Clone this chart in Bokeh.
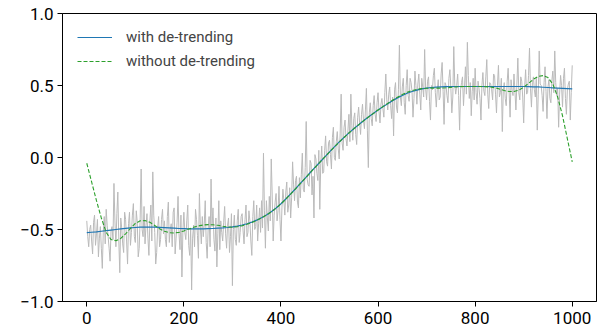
from bokeh.plotting import figure
from bokeh.models import Range1d, FixedTicker, Legend, LegendItem
from bokeh.embed import file_html
from bokeh.resources import INLINE

# Raw noisy signal, sampled every 2 units
signal_x = list(range(0, 1001, 2))
signal_y = [
    -0.44, -0.55, -0.62, -0.50, -0.47, -0.58, -0.67, -0.45, -0.40, -0.61,
    -0.53, -0.43, -0.69, -0.56, -0.48, -0.63, -0.77, -0.52, -0.41, -0.60,
    -0.36, -0.47, -0.55, -0.63, -0.72, -0.51, -0.48, -0.57, -0.18, -0.44,
    -0.62, -0.39, -0.24, -0.58, -0.80, -0.42, -0.49, -0.60, -0.66, -0.38,
    -0.43, -0.58, -0.74, -0.46, -0.38, -0.61, -0.52, -0.40, -0.32, -0.55,
    -0.59, -0.37, -0.45, -0.69, -0.63, -0.42, -0.08, -0.50, -0.55, -0.34,
    -0.60, -0.47, -0.39, -0.56, -0.68, -0.44, -0.33, -0.58, -0.10, -0.40,
    -0.52, -0.74, -0.66, -0.49, -0.41, -0.62, -0.57, -0.43, -0.36, -0.53,
    -0.44, -0.57, -0.62, -0.41, -0.31, -0.59, -0.50, -0.46, -0.62, -0.38,
    -0.35, -0.67, -0.56, -0.45, -0.27, -0.53, -0.64, -0.40, -0.83, -0.51,
    -0.38, -0.52, -0.57, -0.44, -0.33, -0.61, -0.68, -0.49, -0.92, -0.56,
    -0.47, -0.62, -0.36, -0.43, -0.54, -0.70, -0.25, -0.48, -0.60, -0.41,
    -0.55, -0.46, -0.30, -0.59, -0.70, -0.50, -0.41, -0.62, -0.15, -0.48,
    -0.35, -0.57, -0.65, -0.42, -0.76, -0.53, -0.30, -0.64, -0.44, -0.52,
    -0.58, -0.45, -0.34, -0.53, -0.63, -0.47, -0.42, -0.66, -0.55, -0.39,
    -0.89, -0.50, -0.40, -0.57, -0.61, -0.44, -0.36, -0.59, -0.52, -0.41,
    -0.39, -0.51, -0.60, -0.43, -0.33, -0.55, -0.52, -0.37, -0.44, -0.58,
    -0.68, -0.41, -0.30, -0.50, -0.48, -0.33, -0.58, -0.46, -0.35, -0.52,
    -0.30, -0.49, 0.03, -0.37, -0.63, -0.30, -0.42, -0.51, -0.27, -0.44,
    -0.01, -0.26, -0.58, -0.40, -0.31, -0.25, -0.44, -0.37, -0.20, -0.43,
    -0.58, -0.35, -0.22, -0.30, -0.40, -0.24, -0.17, -0.38, -0.33, -0.21,
    -0.42, -0.28, -0.03, -0.19, -0.30, -0.16, -0.13, -0.31, -0.35, -0.14,
    -0.28, -0.12, 0.03, -0.22, -0.24, -0.07, 0.25, -0.15, -0.19, -0.20,
    -0.02, -0.04, -0.26, -0.13, -0.42, 0.02, -0.01, -0.11, -0.16, 0.05,
    -0.36, -0.04, 0.08, -0.11, -0.10, 0.05, 0.15, -0.03, -0.06, 0.10,
    0.12, 0.02, -0.08, 0.14, 0.21, 0.00, -0.02, 0.11, 0.18, 0.06,
    -0.01, 0.17, 0.44, 0.10, 0.05, 0.21, 0.26, 0.13, 0.08, 0.19,
    0.30, 0.11, 0.44, 0.22, 0.12, 0.27, 0.31, 0.16, 0.09, 0.28,
    0.35, 0.24, 0.16, 0.30, 0.37, 0.26, 0.20, 0.33, 0.48, 0.19,
    -0.07, 0.31, 0.38, 0.27, 0.22, 0.36, 0.43, 0.30, 0.25, 0.38,
    0.45, 0.32, 0.24, 0.37, 0.41, 0.34, 0.28, 0.45, 0.58, 0.40,
    0.33, 0.44, 0.49, 0.36, 0.27, 0.42, 0.15, 0.47, 0.52, 0.35,
    0.31, 0.47, 0.78, 0.42, 0.36, 0.49, 0.55, 0.38, 0.30, 0.50,
    0.61, 0.43, 0.39, 0.55, 0.52, 0.46, 0.28, 0.41, 0.60, 0.50,
    0.37, 0.51, 0.58, 0.44, 0.33, 0.55, 0.49, 0.42, 0.75, 0.48,
    0.40, 0.53, 0.56, 0.39, 0.26, 0.50, 0.47, 0.57, 0.62, 0.45,
    0.35, 0.47, 0.54, 0.40, 0.42, 0.58, 0.66, 0.46, 0.23, 0.52,
    0.50, 0.43, 0.38, 0.55, 0.61, 0.48, 0.31, 0.42, 0.77, 0.51,
    0.44, 0.50, 0.58, 0.43, 0.19, 0.47, 0.52, 0.56, 0.36, 0.49,
    0.63, 0.44, 0.80, 0.57, 0.41, 0.52, 0.29, 0.46, 0.55, 0.40,
    0.62, 0.45, 0.37, 0.53, 0.48, 0.41, 0.26, 0.50, 0.59, 0.46,
    0.43, 0.56, 0.68, 0.44, 0.34, 0.52, 0.51, 0.47, 0.40, 0.58,
    0.57, 0.44, 0.31, 0.50, 0.64, 0.42, 0.45, 0.55, 0.18, 0.47,
    0.52, 0.41, 0.36, 0.53, 0.62, 0.46, 0.28, 0.54, 0.47, 0.43,
    0.58, 0.46, 0.33, 0.51, 0.69, 0.45, 0.40, 0.56, 0.53, 0.42,
    0.24, 0.49, 0.61, 0.44, 0.45, 0.57, 0.76, 0.48, 0.35, 0.52,
    0.56, 0.47, 0.42, 0.55, 0.19, 0.44, 0.74, 0.51, 0.50, 0.43,
    0.32, 0.52, 0.63, 0.46, 0.27, 0.49, 0.54, 0.41, 0.38, 0.53,
    0.60, 0.45, 0.74, 0.52, 0.43, 0.48, 0.21, 0.44, 0.57, 0.50,
    0.35, 0.55, 0.62, 0.41, 0.30, 0.47, 0.51, 0.53, 0.26, 0.45,
    0.64,
]

# Smoothed fits, sampled every 10 units
fit_x = list(range(0, 1001, 10))
fit_detrended = [
    -0.522, -0.519, -0.516, -0.512, -0.508, -0.504, -0.500, -0.496, -0.492, -0.489,
    -0.486, -0.484, -0.483, -0.483, -0.484, -0.485, -0.487, -0.489, -0.491, -0.493,
    -0.494, -0.495, -0.495, -0.495, -0.495, -0.494, -0.493, -0.491, -0.489, -0.486,
    -0.482, -0.476, -0.469, -0.460, -0.449, -0.435, -0.418, -0.399, -0.377, -0.351,
    -0.321, -0.288, -0.253, -0.217, -0.180, -0.143, -0.106, -0.069, -0.033, 0.003,
    0.039, 0.074, 0.108, 0.140, 0.171, 0.200, 0.228, 0.255, 0.281, 0.306,
    0.330, 0.352, 0.374, 0.395, 0.414, 0.431, 0.446, 0.458, 0.468, 0.476,
    0.482, 0.486, 0.489, 0.491, 0.492, 0.493, 0.493, 0.493, 0.493, 0.493,
    0.493, 0.493, 0.493, 0.493, 0.493, 0.493, 0.493, 0.493, 0.493, 0.493,
    0.493, 0.492, 0.491, 0.490, 0.488, 0.486, 0.484, 0.482, 0.480, 0.478,
    0.476,
]
fit_raw = [
    -0.040, -0.170, -0.300, -0.420, -0.520, -0.570, -0.578, -0.562, -0.530, -0.492,
    -0.458, -0.440, -0.438, -0.450, -0.472, -0.495, -0.512, -0.522, -0.524, -0.520,
    -0.510, -0.497, -0.485, -0.475, -0.469, -0.466, -0.467, -0.471, -0.477, -0.482,
    -0.484, -0.481, -0.474, -0.464, -0.452, -0.437, -0.420, -0.400, -0.378, -0.352,
    -0.322, -0.289, -0.254, -0.218, -0.181, -0.144, -0.107, -0.070, -0.034, 0.002,
    0.038, 0.073, 0.107, 0.139, 0.170, 0.199, 0.227, 0.254, 0.280, 0.305,
    0.330, 0.353, 0.376, 0.398, 0.418, 0.437, 0.453, 0.465, 0.473, 0.478,
    0.481, 0.482, 0.482, 0.482, 0.484, 0.487, 0.490, 0.492, 0.493, 0.493,
    0.493, 0.493, 0.492, 0.490, 0.485, 0.476, 0.465, 0.458, 0.458, 0.467,
    0.488, 0.515, 0.543, 0.563, 0.569, 0.555, 0.510, 0.420, 0.290, 0.130,
    -0.030,
]

x_ticks = [0, 200, 400, 600, 800, 1000]
y_ticks = [-1.0, -0.5, 0.0, 0.5, 1.0]
y_tick_labels = ["\u22121.0", "\u22120.5", "0.0", "0.5", "1.0"]

FONT = "Roboto"

p = figure(
    width=611, height=335,
    output_backend="svg", toolbar_location=None,
    x_range=Range1d(-50, 1050), y_range=Range1d(-1.0, 1.0),
    min_border_left=62, min_border_right=15,
    min_border_top=13, min_border_bottom=34,
)
p.background_fill_color = "white"
p.border_fill_color = "white"
p.grid.visible = False
p.outline_line_color = "black"
p.outline_line_width = 1

p.line(signal_x, signal_y, line_color="#bababa", line_width=1)
r_det = p.line(fit_x, fit_detrended, line_color="#1f77b4", line_width=1.2)
r_raw = p.line(fit_x, fit_raw, line_color="#2ca02c", line_width=1.1, line_dash="4 2")

for ax in (p.xaxis[0], p.yaxis[0]):
    ax.major_tick_in = 0
    ax.major_tick_out = 5
    ax.minor_tick_in = 0
    ax.minor_tick_out = 0
    ax.axis_line_color = "black"
    ax.major_tick_line_color = "black"
    ax.major_label_text_font = FONT
    ax.major_label_text_font_size = "17px"
    ax.major_label_text_color = "black"

p.xaxis.ticker = FixedTicker(ticks=x_ticks)
p.yaxis.ticker = FixedTicker(ticks=y_ticks)
p.yaxis.major_label_overrides = {t: s for t, s in zip(y_ticks, y_tick_labels)}
p.xaxis.major_label_standoff = 5
p.yaxis.major_label_standoff = 4

legend = Legend(
    items=[
        LegendItem(label="with de-trending", renderers=[r_det]),
        LegendItem(label="without de-trending", renderers=[r_raw]),
    ],
    location="top_left",
    margin=10, padding=5,
    glyph_width=35, glyph_height=16, label_height=16,
    spacing=6, label_standoff=14,
    label_text_font=FONT, label_text_font_size="15px",
    border_line_alpha=0, background_fill_alpha=0,
)
p.add_layout(legend)

open("out.html", "w").write(file_html(p, INLINE))
